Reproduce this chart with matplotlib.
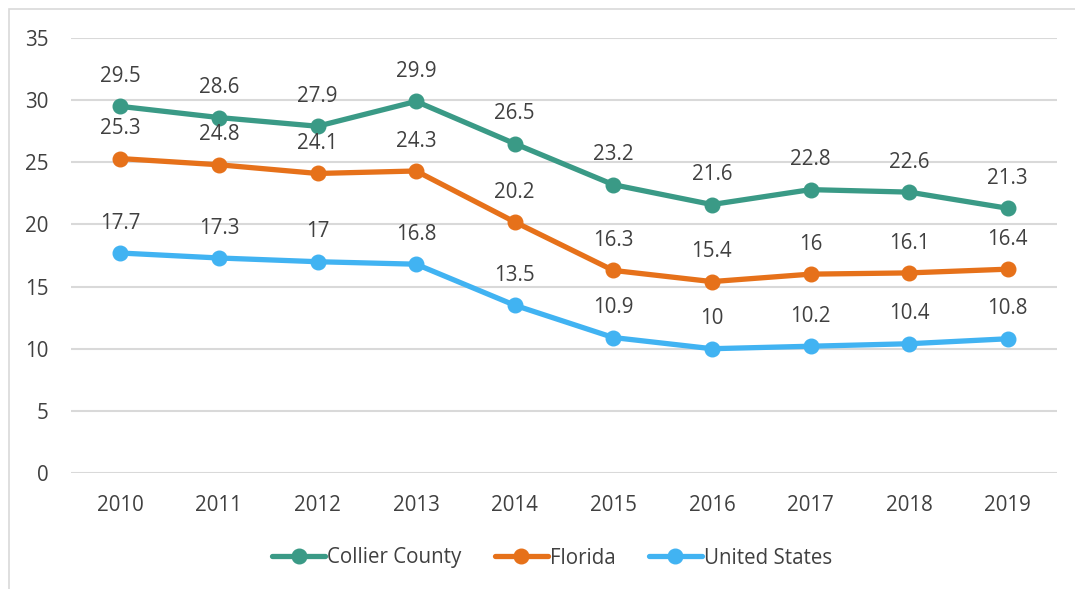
import matplotlib
matplotlib.use("Agg")
import matplotlib.pyplot as plt
from matplotlib.patches import Rectangle

years = ["2010", "2011", "2012", "2013", "2014", "2015", "2016", "2017", "2018", "2019"]
collier = [29.5, 28.6, 27.9, 29.9, 26.5, 23.2, 21.6, 22.8, 22.6, 21.3]
florida = [25.3, 24.8, 24.1, 24.3, 20.2, 16.3, 15.4, 16.0, 16.1, 16.4]
united_states = [17.7, 17.3, 17.0, 16.8, 13.5, 10.9, 10.0, 10.2, 10.4, 10.8]
series_names = ["Collier County", "Florida", "United States"]
series_colors = ["#3A9A86", "#E6711A", "#41B3F2"]
y_ticks = [0, 5, 10, 15, 20, 25, 30, 35]

plt.rcParams['font.family'] = ['Open Sans', 'DejaVu Sans']
text_color = "#404040"
fs = 14.8

fig = plt.figure(figsize=(10.75, 5.89), dpi=100)
ax = fig.add_axes([71 / 1075, 116 / 589, 986 / 1075, 435 / 589])

# outer chart frame
fig.patches.append(Rectangle((9 / 1075, -0.01), 1.1, (580 / 589) + 0.01,
                             transform=fig.transFigure, fill=False,
                             edgecolor="#D9D9D9", linewidth=1.2))

x = list(range(len(years)))
for name, vals, col in zip(series_names, [collier, florida, united_states], series_colors):
    ax.plot(x, vals, color=col, linewidth=3.8, marker='o', markersize=10.5,
            label=name, solid_capstyle='round', zorder=3)
    for xi, v in zip(x, vals):
        ax.annotate(f"{v:g}", (xi, v), xytext=(0, 21.5), textcoords='offset points',
                    ha='center', va='center', fontsize=fs, color=text_color)

ax.set_xlim(-0.5, len(years) - 0.5)
ax.set_ylim(0, 35)
ax.set_yticks(y_ticks)
ax.set_xticks(x)
ax.set_xticklabels(years)
ax.grid(axis='y', color='#D9D9D9', linewidth=1.5)
ax.set_axisbelow(True)
for s in ax.spines.values():
    s.set_visible(False)
ax.tick_params(axis='both', length=0, labelsize=fs, labelcolor=text_color)
ax.tick_params(axis='y', pad=16)
ax.tick_params(axis='x', pad=16)

leg = fig.legend(loc='center', bbox_to_anchor=(552 / 1075, 1 - 558 / 589), ncol=3,
                 frameon=False, fontsize=fs, handlelength=2.6, handletextpad=0.1,
                 columnspacing=1.6)
for t in leg.get_texts():
    t.set_color(text_color)

fig.savefig("out.png", dpi=100)
